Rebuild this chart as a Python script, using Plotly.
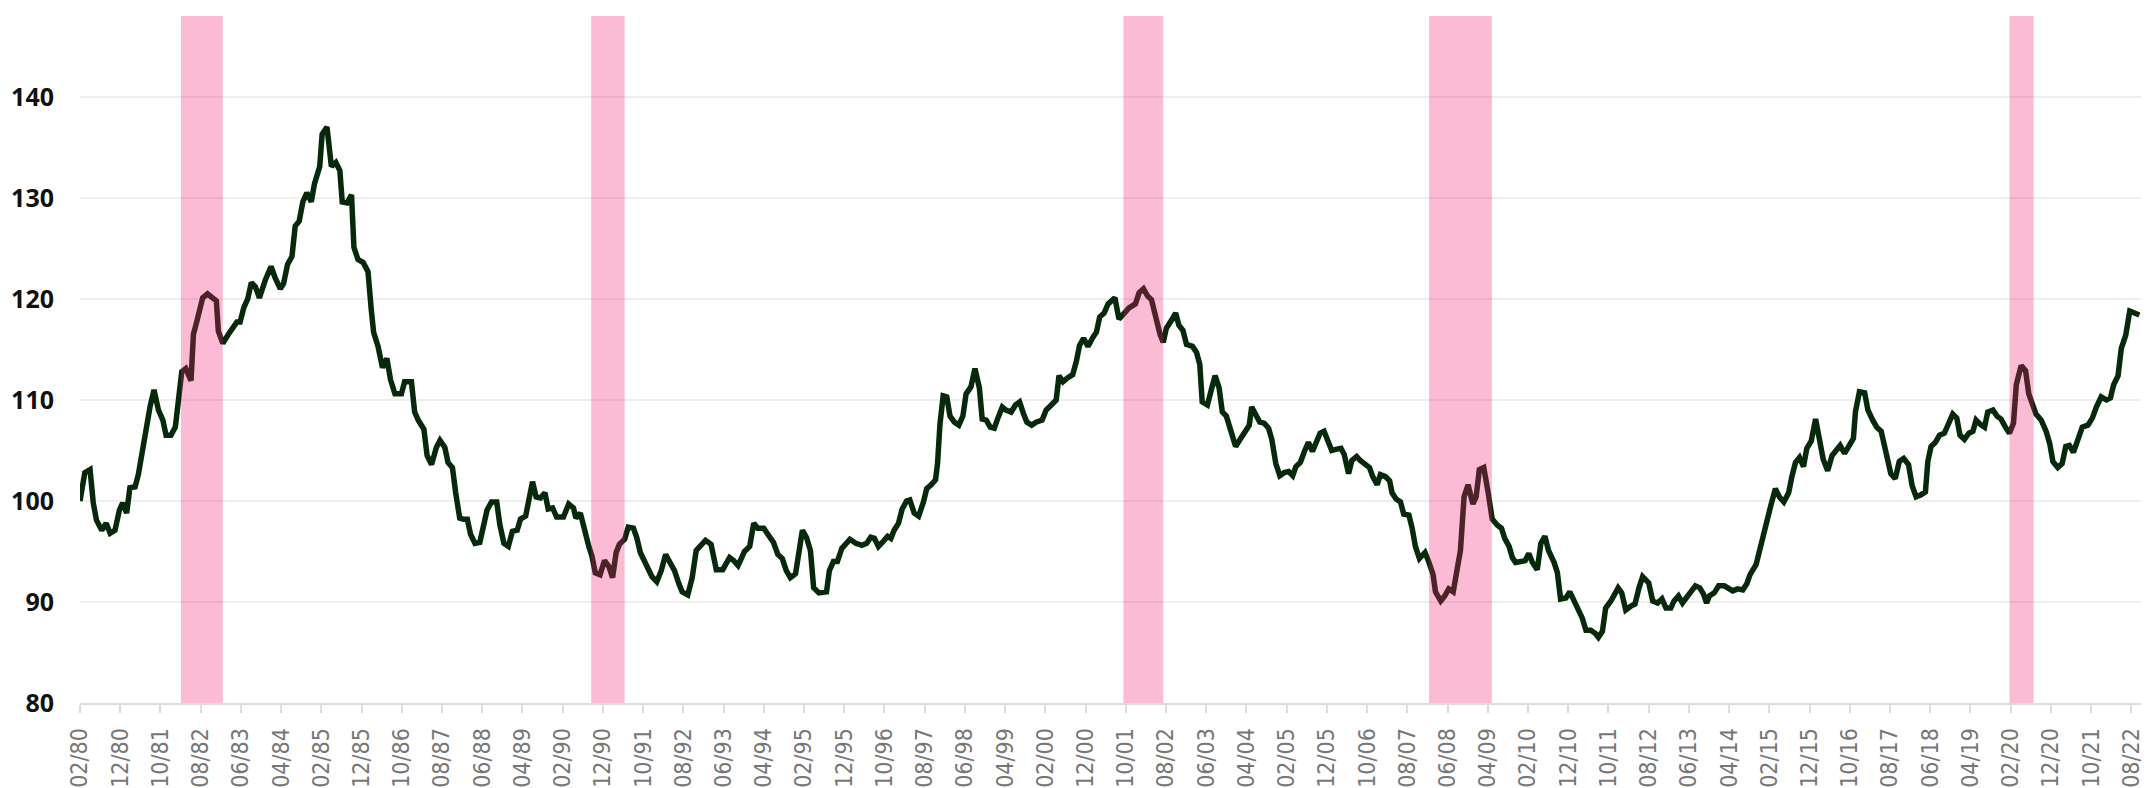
import pandas as pd
import plotly.graph_objects as go

# Months elapsed since 02/1980 and index value
month_offset = [
    0.0, 1.2, 2.5, 3.3, 4.1, 5.4, 6.5, 7.5, 8.7, 9.8, 10.6, 11.6, 12.4, 13.7, 14.5, 15.4, 16.3, 17.4, 18.4, 19.5,
    20.6, 21.4, 22.6, 23.7, 25.3, 26.3, 27.6, 28.2, 29.0, 29.9, 30.5, 31.7, 32.8, 33.9, 34.4, 35.5, 36.9, 38.2, 39.0, 39.8,
    40.7, 41.7, 42.6, 43.6, 44.6, 46.1, 47.5, 48.5, 49.8, 50.6, 51.6, 52.7, 53.5, 54.5, 55.4, 56.4, 57.5, 58.3, 59.6, 60.2,
    61.4, 62.5, 63.6, 64.6, 65.2, 66.4, 67.5, 68.1, 69.1, 70.4, 71.6, 72.4, 73.0, 74.1, 75.2, 76.3, 77.2, 78.3, 79.9, 80.7,
    82.4, 83.2, 84.1, 85.5, 86.3, 87.4, 88.6, 89.5, 90.7, 91.5, 92.6, 93.4, 94.4, 95.3, 96.3, 97.1, 98.2, 99.4, 100.2, 101.2,
    102.3, 103.6, 104.4, 105.4, 106.5, 107.5, 108.7, 109.5, 110.8, 111.5, 112.5, 113.4, 114.5, 115.6, 116.4, 117.5, 118.5, 120.2, 121.5, 122.7,
    123.3, 124.4, 125.4, 126.5, 127.3, 128.1, 129.3, 130.4, 131.5, 132.4, 133.3, 134.1, 135.4, 136.3, 137.6, 138.4, 139.3, 140.3, 141.2, 142.2,
    143.4, 144.5, 145.6, 146.6, 147.8, 148.9, 149.7, 151.1, 152.2, 153.2, 154.4, 155.5, 156.9, 158.2, 159.8, 161.5, 162.5, 163.6, 164.4, 165.2,
    166.5, 167.5, 168.5, 170.0, 171.0, 172.4, 173.5, 174.6, 175.6, 176.6, 177.9, 178.8, 179.6, 180.6, 181.6, 182.4, 183.7, 185.6, 186.3, 187.3,
    188.3, 189.4, 191.4, 192.9, 194.4, 195.6, 196.6, 197.5, 198.5, 199.7, 200.8, 201.6, 202.4, 203.5, 204.4, 205.5, 206.3, 207.4, 208.5, 209.7,
    210.5, 211.6, 212.7, 213.2, 213.8, 214.6, 215.5, 216.3, 217.4, 218.5, 219.5, 220.3, 221.5, 222.5, 223.6, 224.3, 225.3, 226.3, 227.3, 228.2,
    229.3, 230.2, 231.5, 232.6, 233.6, 234.6, 235.4, 236.6, 237.7, 239.2, 240.2, 241.5, 242.7, 243.4, 244.4, 245.6, 246.8, 247.7, 248.5, 249.5,
    250.6, 252.0, 252.7, 253.5, 254.6, 255.6, 257.3, 258.3, 259.5, 260.8, 262.4, 263.3, 264.4, 265.4, 266.4, 267.6, 268.5, 269.3, 270.1, 271.4,
    272.4, 273.2, 274.2, 275.1, 276.6, 277.6, 278.4, 279.0, 280.3, 281.4, 282.2, 283.2, 284.0, 285.0, 286.1, 287.3, 288.6, 289.7, 290.7, 291.3,
    292.3, 293.3, 294.4, 295.5, 296.3, 297.3, 298.3, 299.4, 300.5, 301.5, 302.3, 303.4, 304.4, 305.4, 306.4, 307.4, 308.3, 309.3, 310.2, 311.2,
    312.2, 313.5, 314.3, 315.4, 316.2, 317.4, 318.3, 319.4, 320.6, 321.4, 322.5, 323.3, 324.6, 325.6, 326.2, 327.2, 328.3, 329.1, 330.4, 331.2,
    332.0, 333.0, 334.4, 335.4, 336.4, 337.0, 338.3, 339.3, 340.3, 341.4, 343.2, 344.1, 345.1, 346.3, 347.1, 347.9, 349.0, 350.1, 351.1, 352.4,
    353.4, 354.2, 355.3, 356.1, 356.9, 358.2, 359.3, 360.2, 361.1, 362.3, 363.2, 364.2, 365.1, 366.5, 367.3, 368.1, 369.4, 370.4, 371.5, 372.5,
    373.5, 374.4, 375.6, 376.7, 377.5, 378.5, 379.3, 380.6, 381.4, 382.4, 383.3, 384.3, 385.6, 386.6, 387.6, 388.5, 390.0, 391.0, 392.2, 393.3,
    394.3, 395.5, 396.3, 397.4, 398.4, 399.7, 400.5, 401.6, 402.7, 403.6, 404.4, 405.1, 406.3, 407.4, 408.8, 409.6, 410.9, 412.1, 413.4, 414.4,
    415.2, 416.7, 417.7, 418.5, 419.3, 420.4, 421.5, 422.5, 423.6, 424.8, 425.6, 426.5, 427.5, 428.5, 429.3, 430.4, 431.5, 432.5, 433.4, 434.5,
    435.6, 436.6, 437.6, 438.7, 439.9, 440.9, 441.4, 442.4, 443.7, 444.5, 445.7, 446.7, 447.8, 448.6, 449.4, 450.2, 451.3, 452.3, 453.4, 454.6,
    455.5, 456.5, 457.7, 458.8, 459.4, 460.2, 461.3, 462.3, 463.5, 464.5, 465.6, 466.6, 467.4, 468.5, 469.6, 470.6, 471.4, 472.4, 473.5, 474.3,
    475.6, 476.6, 477.6, 478.7, 479.7, 480.7, 481.4, 482.6, 483.7, 484.5, 485.3, 486.3, 487.6, 488.8, 489.7, 490.5, 491.7, 492.8, 493.7, 494.6,
    495.6, 496.7, 497.8, 499.2, 500.3, 501.3, 502.5, 503.8, 504.8, 505.6, 506.7, 507.5, 508.6, 509.6, 510.8, 512.0,
]
index_value = [
    100.0, 102.8, 103.1, 99.8, 98.1, 97.1, 97.8, 96.8, 97.1, 99.1, 99.8, 98.8, 101.3, 101.4, 102.6, 104.8, 106.8, 109.3, 111.0, 109.0,
    108.0, 106.5, 106.5, 107.3, 112.8, 113.1, 111.9, 116.5, 117.7, 119.2, 120.1, 120.5, 120.2, 119.8, 116.8, 115.6, 116.5, 117.3, 117.7, 117.7,
    119.1, 120.0, 121.6, 121.2, 120.1, 121.9, 123.2, 122.1, 121.0, 121.5, 123.4, 124.2, 127.2, 127.7, 129.6, 130.5, 129.6, 131.4, 133.1, 136.3,
    137.0, 133.1, 133.5, 132.7, 129.6, 129.5, 130.3, 125.1, 123.9, 123.6, 122.7, 119.0, 116.7, 115.3, 113.2, 114.1, 112.0, 110.6, 110.6, 111.8,
    111.8, 108.8, 108.0, 107.1, 104.5, 103.6, 105.3, 106.0, 105.3, 103.8, 103.3, 100.8, 98.3, 98.2, 98.2, 96.7, 95.8, 95.9, 97.1, 99.1,
    99.9, 99.9, 97.6, 95.8, 95.5, 97.0, 97.1, 98.2, 98.5, 99.8, 101.9, 100.4, 100.3, 100.8, 99.2, 99.3, 98.4, 98.4, 99.7, 99.3,
    98.3, 98.8, 97.1, 95.5, 94.5, 92.9, 92.7, 94.1, 93.5, 92.4, 94.9, 95.7, 96.2, 97.4, 97.3, 96.4, 94.9, 94.1, 93.1, 92.5,
    92.0, 93.1, 94.7, 94.0, 93.1, 91.8, 91.0, 90.7, 92.4, 95.1, 95.6, 96.1, 95.7, 93.2, 93.2, 94.4, 94.1, 93.6, 94.3, 95.0,
    95.5, 97.8, 97.3, 97.3, 96.7, 95.9, 94.7, 94.3, 93.1, 92.4, 92.8, 95.1, 97.1, 96.4, 95.1, 91.4, 90.9, 91.0, 93.1, 94.0,
    94.0, 95.3, 96.2, 95.8, 95.6, 95.8, 96.4, 96.3, 95.5, 96.0, 96.5, 96.3, 97.1, 97.8, 99.2, 100.0, 100.1, 98.8, 98.5, 99.9,
    101.2, 101.6, 102.1, 103.7, 107.6, 110.4, 110.3, 108.4, 107.8, 107.5, 108.4, 110.6, 111.3, 113.1, 111.2, 108.1, 108.0, 107.3, 107.2, 108.2,
    109.3, 109.0, 108.8, 109.5, 109.8, 108.6, 107.8, 107.5, 107.8, 108.0, 109.0, 109.5, 110.0, 112.4, 111.8, 112.2, 112.5, 113.8, 115.4, 116.1,
    115.3, 116.3, 116.7, 118.2, 118.6, 119.5, 120.1, 118.0, 118.5, 119.1, 119.5, 120.6, 121.0, 120.3, 119.9, 117.8, 116.5, 115.7, 117.1, 117.9,
    118.6, 117.4, 116.9, 115.5, 115.3, 114.7, 113.5, 109.8, 109.5, 111.2, 112.4, 111.2, 108.8, 108.4, 106.9, 105.4, 106.2, 106.9, 107.5, 109.3,
    108.6, 107.8, 107.7, 107.2, 106.1, 103.7, 102.5, 102.8, 102.9, 102.5, 103.4, 103.8, 104.9, 105.8, 104.9, 105.9, 106.7, 106.9, 106.1, 105.0,
    105.1, 105.2, 104.6, 102.7, 104.0, 104.4, 104.0, 103.6, 103.3, 102.4, 101.6, 102.6, 102.4, 102.0, 100.8, 100.2, 99.9, 98.7, 98.6, 97.3,
    95.5, 94.3, 94.9, 93.9, 92.7, 91.0, 90.1, 90.6, 91.3, 91.0, 95.1, 100.4, 101.6, 99.7, 100.4, 103.1, 103.3, 100.8, 98.2, 97.6,
    97.3, 96.3, 95.5, 94.4, 93.9, 94.0, 94.1, 94.8, 93.9, 93.2, 95.8, 96.5, 95.1, 93.9, 92.9, 90.3, 90.4, 91.0, 90.0, 89.2,
    88.4, 87.2, 87.2, 86.9, 86.5, 87.1, 89.4, 90.1, 90.7, 91.4, 90.9, 89.2, 89.6, 89.8, 91.4, 92.5, 91.9, 90.1, 89.9, 90.3,
    89.4, 89.4, 90.1, 90.6, 89.9, 90.6, 91.2, 91.6, 91.4, 90.8, 89.9, 90.6, 90.9, 91.6, 91.6, 91.4, 91.1, 91.3, 91.2, 91.8,
    92.7, 93.7, 95.3, 96.7, 98.3, 99.6, 101.2, 100.4, 99.9, 100.8, 102.4, 103.8, 104.3, 103.4, 105.2, 105.9, 108.1, 106.1, 104.1, 103.0,
    104.5, 105.0, 105.5, 104.7, 105.5, 106.2, 108.8, 110.8, 110.7, 109.0, 108.0, 107.3, 106.9, 105.3, 103.9, 102.7, 102.2, 103.9, 104.2, 103.6,
    101.5, 100.4, 100.6, 100.9, 103.9, 105.4, 105.8, 106.5, 106.7, 107.5, 108.6, 108.2, 106.5, 106.1, 106.7, 106.9, 108.0, 107.6, 107.3, 108.8,
    109.0, 108.4, 108.1, 107.3, 106.7, 107.7, 111.5, 113.4, 112.9, 110.6, 109.8, 108.6, 108.0, 106.9, 105.7, 103.9, 103.3, 103.7, 105.4, 105.5,
    104.8, 105.9, 107.3, 107.5, 108.2, 109.3, 110.3, 110.0, 110.2, 111.5, 112.4, 115.1, 116.4, 118.8, 118.6, 118.4,
]

# Recession bands, start / end in months since 02/1980
recession_start = [25.1, 127.1, 259.4, 335.4, 479.7]
recession_end = [35.5, 135.4, 269.3, 351.0, 485.7]

# X tick labels every 10 months, starting 02/80
tick_labels = list(pd.date_range("1980-02-01", periods=52, freq="10MS").strftime("%m/%y"))
tick_positions = list(range(0, 10 * len(tick_labels), 10))
y_ticks = [80, 90, 100, 110, 120, 130, 140]

fig = go.Figure()
fig.add_trace(go.Scatter(
    x=month_offset, y=index_value, mode="lines",
    line=dict(color="#06290c", width=5.5),
    showlegend=False, hoverinfo="skip",
))

for s, e in zip(recession_start, recession_end):
    fig.add_shape(type="rect", xref="x", yref="y domain", x0=s, x1=e, y0=0, y1=1,
                  fillcolor="rgba(244, 20, 110, 0.29)", line=dict(width=0), layer="above")

fig.update_layout(
    width=2149, height=788,
    margin=dict(l=80, r=8, t=16, b=85),
    paper_bgcolor="white", plot_bgcolor="white",
    showlegend=False,
)
fig.update_xaxes(
    range=[0, 512.4], automargin=False,
    tickmode="array", tickvals=tick_positions, ticktext=tick_labels,
    tickangle=-90,
    tickfont=dict(family="Liberation Sans Narrow, DejaVu Sans Condensed, sans-serif", size=23, color="#777777"),
    ticks="outside", ticklen=8, tickwidth=2, tickcolor="#dddddd",
    showline=True, linecolor="#dddddd", linewidth=2,
    showgrid=False, zeroline=False, ticklabelstandoff=6,
)
fig.update_yaxes(
    range=[80, 148], automargin=False,
    tickmode="array", tickvals=y_ticks,
    tickfont=dict(family="Open Sans, sans-serif", size=25, color="#111111", weight="bold"),
    showgrid=True, gridcolor="#eeeeee", gridwidth=2,
    showline=False, zeroline=False, ticks="", ticklabelstandoff=25,
)

fig.write_html(
    "out.html",
    config={"displayModeBar": False},
    post_script="document.body.style.margin='0';document.body.style.overflow='hidden';",
)
